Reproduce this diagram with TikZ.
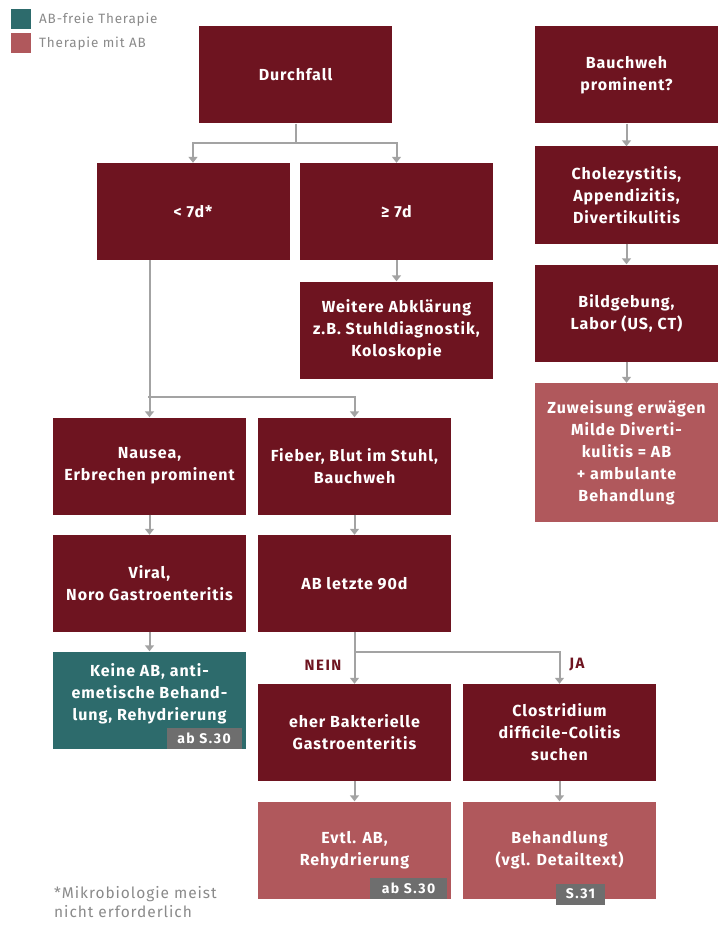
\documentclass[tikz,border=0pt]{standalone}
\usepackage{fontspec}
\setmainfont{Fira Sans}
\newfontfamily\boxfont[LetterSpace=6]{Fira Sans}
\newfontfamily\tagfont[LetterSpace=10]{Fira Sans}
\usetikzlibrary{arrows.meta}
\definecolor{dred}{HTML}{6E1420}
\definecolor{pinkr}{HTML}{B0585C}
\definecolor{tealb}{HTML}{2D6B6C}
\definecolor{lgray}{HTML}{A3A3A3}
\definecolor{tgray}{HTML}{6E6E6E}
\definecolor{ftgray}{HTML}{8A8A8A}
\tikzset{
  box/.style={rectangle, fill=dred, text=white, minimum width=193pt, minimum height=97pt,
    inner sep=0pt, align=center, font=\boxfont\fontsize{16}{22}\selectfont\bfseries},
  wbox/.style={box, minimum width=183pt},
  pbox/.style={fill=pinkr},
  tbox/.style={fill=tealb},
  btext/.style={text=white, inner sep=0pt, align=center, font=\boxfont\fontsize{16}{22}\selectfont\bfseries},
  tag/.style={rectangle, fill=tgray, text=white, inner sep=0pt, minimum height=21pt,
    font=\tagfont\fontsize{14}{16}\selectfont\bfseries},
  conn/.style={draw=lgray, line width=2pt},
  arr/.style={conn, -{Triangle[width=9pt,length=6pt]}},
  lbl/.style={text=dred, font=\tagfont\fontsize{15}{17}\selectfont\bfseries},
  legtext/.style={text=ftgray, font=\boxfont\fontsize{13.5}{16}\selectfont, anchor=west, inner sep=0pt},
  note/.style={text=ftgray, font=\boxfont\fontsize{15.5}{19}\selectfont, align=left, anchor=north west, inner sep=0pt},
}
\begin{document}
\begin{tikzpicture}[x=1pt,y=-1pt]
\useasboundingbox (0,0) rectangle (721,928);
% legend
\node[fill=tealb, minimum size=20pt, inner sep=0pt] (lg1) at (20.5,19.5) {};
\node[fill=pinkr, minimum size=20pt, inner sep=0pt] (lg2) at (20.5,43.5) {};
\node[legtext] (lt1) at (39,19.5) {AB-freie Therapie};
\node[legtext] (lt2) at (39,43.5) {Therapie mit AB};
% boxes
\node[box] (durch) at (295.5,75) {Durchfall};
\node[wbox] (bauch) at (626.5,75) {Bauchweh\\prominent?};
\node[box] (lt7) at (193,211.5) {< 7d*};
\node[box] (ge7) at (396.5,211.5) {≥ 7d};
\node[box] (weit) at (396.5,330) {Weitere Abklärung\\z.B. Stuhldiagnostik,\\Koloskopie};
\node[wbox] (chole) at (626.5,195) {Cholezystitis,\\Appendizitis,\\Divertikulitis};
\node[wbox] (bild) at (626.5,313) {Bildgebung,\\Labor (US, CT)};
\node[wbox, pbox, minimum height=139pt] (zuw) at (626.5,452.5) {Zuweisung erwägen\\Milde Diverti-\\kulitis = AB\\+ ambulante\\Behandlung};
\node[box] (naus) at (149.5,466) {Nausea,\\Erbrechen prominent};
\node[box] (fieb) at (354.5,466) {Fieber, Blut im Stuhl,\\Bauchweh};
\node[box] (viral) at (149.5,583.5) {Viral,\\Noro Gastroenteritis};
\node[box] (abl) at (354.5,583.5) {AB letzte 90d};
\node[box, tbox] (keine) at (149.5,700) {};
\node[btext] (keinetxt) at (149.5,693.5) {Keine AB, anti-\\emetische Behand-\\lung, Rehydrierung};
\node[box] (bakt) at (354.5,732.5) {eher Bakterielle\\Gastroenteritis};
\node[box] (clos) at (559.5,732.5) {Clostridium\\difficile-Colitis\\suchen};
\node[box, pbox] (evtl) at (354.5,850) {Evtl. AB,\\Rehydrierung};
\node[box, pbox] (behan) at (559.5,850) {Behandlung\\(vgl. Detailtext)};
% tags
\node[tag, minimum width=75pt] (tag1) at (204,738.5) {ab S.30};
\node[tag, minimum width=77pt] (tag2) at (408.5,888) {ab S.30};
\node[tag, minimum width=49pt] (tag3) at (580.5,894) {S.31};
% footnote
\node[note] (fn) at (54,886) {*Mikrobiologie meist\\nicht erforderlich};
% connectors
\coordinate (j1) at (295.5,143);
\draw[conn] (durch.south) -- (j1);
\draw[arr] (j1) -| (lt7.north);
\draw[arr] (j1) -| (ge7.north);
\draw[arr] (ge7) -- (weit);
\coordinate (j2) at (148,397);
\draw[arr] (lt7.south -| naus.north) -- (naus.north);
\draw[arr] (j2) -| (fieb.north);
\draw[arr] (naus) -- (viral);
\draw[arr] (viral) -- (keine);
\draw[arr] (fieb) -- (abl);
\coordinate (j3) at (354.5,652);
\draw[conn] (abl.south) -- (j3);
\draw[arr] (j3) -- (bakt.north);
\draw[arr] (j3) -| (clos.north);
\draw[arr] (bakt) -- (evtl);
\draw[arr] (clos) -- (behan);
\draw[arr] (bauch) -- (chole);
\draw[arr] (chole) -- (bild);
\draw[arr] (bild) -- (zuw);
% labels
\node[lbl] (nein) at (323,665) {NEIN};
\node[lbl] (ja) at (577,665) {JA};
\end{tikzpicture}
\end{document}
